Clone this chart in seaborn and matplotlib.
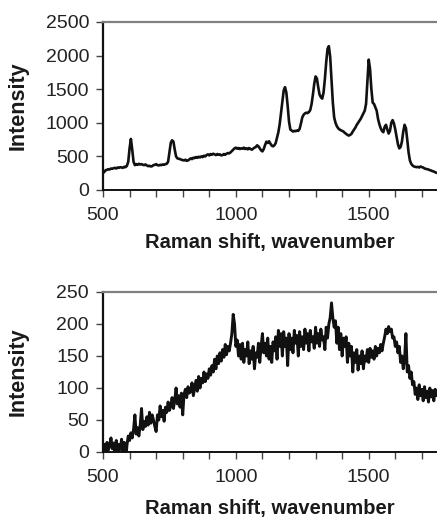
import numpy as np
import pandas as pd
import matplotlib
matplotlib.use("Agg")
import matplotlib.pyplot as plt
import seaborn as sns

# Raman shift sampling (cm^-1): start and step of both spectra
shift_start = 500
shift_step = 5

# Top spectrum intensities, 500..1755 cm^-1 every 5
intensity_top = [
    250, 270, 295, 300, 310, 305, 320, 315, 325, 330,
    320, 335, 330, 340, 335, 330, 345, 340, 360, 420,
    620, 760, 600, 420, 370, 385, 375, 390, 380, 385,
    375, 370, 380, 365, 355, 360, 350, 355, 370, 375,
    385, 370, 365, 375, 370, 380, 375, 385, 390, 420,
    560, 700, 740, 720, 600, 500, 470, 465, 460, 450,
    445, 440, 450, 435, 440, 455, 470, 460, 480, 475,
    490, 480, 495, 485, 500, 490, 510, 500, 520, 530,
    515, 535, 525, 540, 530, 520, 535, 525, 530, 515,
    520, 535, 525, 540, 550, 545, 560, 580, 600, 620,
    630, 615, 625, 610, 620, 615, 630, 610, 620, 605,
    625, 610, 600, 615, 630, 640, 665, 650, 620, 590,
    575, 610, 670, 720, 700, 725, 690, 660, 650, 665,
    700, 780, 860, 980, 1150, 1330, 1480, 1530, 1450, 1250,
    1020, 900, 885, 870, 880, 875, 885, 880, 910, 990,
    1080, 1120, 1140, 1150, 1145, 1160, 1190, 1280, 1420, 1580,
    1690, 1660, 1530, 1420, 1380, 1360, 1450, 1650, 1900, 2100,
    2140, 1980, 1650, 1300, 1080, 1000, 950, 920, 900, 890,
    880, 870, 850, 835, 820, 810, 820, 835, 870, 900,
    930, 970, 1000, 1030, 1060, 1100, 1140, 1180, 1280, 1600,
    1940, 1800, 1500, 1300, 1280, 1230, 1180, 1060, 980, 920,
    880, 860, 940, 970, 900, 840, 880, 1000, 1040, 990,
    900, 790, 680, 620, 640, 720, 870, 970, 920, 750,
    560, 440, 390, 365, 350, 345, 340, 345, 335, 350,
    340, 335, 320, 315, 310, 305, 295, 290, 280, 275,
    265, 255,
]

# Bottom spectrum intensities, 500..1755 cm^-1 every 5
intensity_bottom = [
    5, 12, -2, 15, 3, 10, 22, 5, 14, 0,
    18, -5, 12, 4, 20, -3, 15, -15, 10, 25,
    18, 30, 22, 35, 58, 28, 38, 25, 42, 68,
    35, 48, 40, 55, 42, 62, 45, 58, 50, 40,
    32, 58, 50, 72, 55, 65, 48, 70, 62, 78,
    65, 72, 85, 68, 80, 100, 75, 88, 70, 92,
    58, 90, 98, 85, 102, 92, 95, 108, 88, 100,
    112, 95, 118, 100, 115, 108, 125, 110, 122, 115,
    130, 120, 135, 125, 145, 130, 150, 138, 155, 142,
    160, 148, 168, 152, 165, 158, 170, 185, 215, 200,
    165, 175, 150, 168, 145, 170, 140, 160, 150, 172,
    138, 158, 145, 165, 130, 155, 148, 170, 140, 165,
    185, 155, 170, 150, 178, 145, 165, 140, 172, 158,
    180, 145, 190, 165, 185, 150, 188, 165, 178, 135,
    185, 160, 178, 155, 190, 170, 182, 150, 188, 165,
    180, 160, 192, 170, 185, 158, 190, 172, 180, 162,
    195, 170, 185, 165, 192, 175, 180, 160, 195, 178,
    200, 210, 233, 210, 195, 205, 170, 195, 160, 185,
    150, 178, 165, 180, 140, 170, 150, 165, 125, 155,
    140, 160, 128, 150, 138, 158, 130, 150, 142, 160,
    140, 162, 148, 158, 145, 165, 150, 162, 155, 168,
    158, 170, 180, 192, 185, 196, 188, 192, 178, 180,
    165, 172, 155, 165, 140, 150, 130, 145, 185, 125,
    135, 115, 125, 105, 110, 90, 100, 82, 105, 88,
    98, 80, 102, 85, 95, 78, 100, 86, 96, 80,
    98, 88,
]

x_ticks = [500, 600, 700, 800, 900, 1000, 1100, 1200, 1300, 1400, 1500, 1600, 1700]
x_ticklabels = ["500", "", "", "", "", "1000", "", "", "", "", "1500", "", ""]
y_ticks_top = [0, 500, 1000, 1500, 2000, 2500]
y_ticks_bottom = [0, 50, 100, 150, 200, 250]
x_label = "Raman shift, wavenumber"
y_label = "Intensity"

shift_top = shift_start + shift_step * np.arange(len(intensity_top))
shift_bottom = shift_start + shift_step * np.arange(len(intensity_bottom))
df_top = pd.DataFrame({"shift": shift_top, "intensity": intensity_top})
df_bottom = pd.DataFrame({"shift": shift_bottom, "intensity": intensity_bottom})

sns.set_style("ticks")
plt.rcParams["font.family"] = ["Liberation Sans", "DejaVu Sans"]

W, H = 437, 518
fig = plt.figure(figsize=(W / 100, H / 100), dpi=100)

def px_axes(left, top, right, bottom):
    return fig.add_axes([left / W, 1 - bottom / H, (right - left) / W, (bottom - top) / H])

ax1 = px_axes(103, 22, 437, 190)
ax2 = px_axes(103, 292, 437, 452)

panels = [
    (ax1, df_top, y_ticks_top, (0, 2500), 43, 1.9),
    (ax2, df_bottom, y_ticks_bottom, (0, 250), 47, 2.1),
]
for ax, df, yt, ylim, xlab_off, lw in panels:
    sns.lineplot(data=df, x="shift", y="intensity", ax=ax, color="#111111",
                 linewidth=lw, estimator=None)
    ax.set_xlim(500, 1757)
    ax.set_ylim(*ylim)
    ax.set_xticks(x_ticks)
    ax.set_xticklabels(x_ticklabels)
    ax.set_yticks(yt)
    ax.tick_params(axis="both", labelsize=14, colors="#222222", length=5,
                   width=1.0)
    ax.tick_params(axis="x", pad=7, color="#444444")
    ax.tick_params(axis="y", pad=5, color="#444444")
    ax.set_xlabel(x_label, fontsize=14.5, fontweight="bold", color="#1a1a1a")
    ax.set_ylabel(y_label, fontsize=15.5, fontweight="bold", color="#1a1a1a")
    ax.yaxis.set_label_coords(-74 / 334, 0.5)
    ax.xaxis.set_label_coords(0.5, -xlab_off / ax.bbox.height)
    ax.spines["top"].set_color("#808080")
    ax.spines["top"].set_linewidth(1.6)
    ax.spines["right"].set_visible(False)
    ax.spines["left"].set_color("#111111")
    ax.spines["left"].set_linewidth(1.6)
    ax.spines["bottom"].set_color("#111111")
    ax.spines["bottom"].set_linewidth(1.4)
    ax.set_facecolor("white")

fig.savefig("out.png", dpi=100, facecolor="white")
